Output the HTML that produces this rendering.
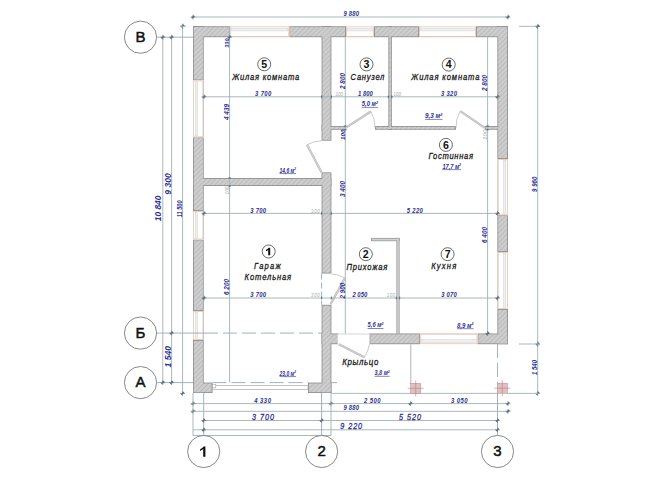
<!DOCTYPE html>
<html><head><meta charset="utf-8"><style>
html,body{margin:0;padding:0;background:#fff;}
svg{display:block;font-family:"Liberation Sans",sans-serif;}
</style></head><body>
<svg width="669" height="502" viewBox="0 0 669 502">
<defs>
<pattern id="hatch" patternUnits="userSpaceOnUse" width="3.4" height="3.4" patternTransform="rotate(45)">
<rect width="3.4" height="3.4" fill="#cdcdcd"/>
<line x1="0" y1="0" x2="0" y2="3.4" stroke="#a2a2a2" stroke-width="0.8"/>
</pattern>
</defs>
<rect width="669" height="502" fill="#fff"/>
<rect x="193.80" y="27.10" width="35.10" height="9.30" fill="none" stroke="#8c8c8c" stroke-width="1.6"/>
<rect x="290.10" y="27.10" width="55.10" height="9.30" fill="none" stroke="#8c8c8c" stroke-width="1.6"/>
<rect x="374.80" y="27.10" width="43.40" height="9.30" fill="none" stroke="#8c8c8c" stroke-width="1.6"/>
<rect x="476.80" y="27.10" width="30.40" height="9.30" fill="none" stroke="#8c8c8c" stroke-width="1.6"/>
<rect x="193.80" y="27.10" width="9.10" height="52.50" fill="none" stroke="#8c8c8c" stroke-width="1.6"/>
<rect x="193.80" y="138.10" width="9.10" height="72.10" fill="none" stroke="#8c8c8c" stroke-width="1.6"/>
<rect x="193.80" y="240.30" width="9.10" height="69.90" fill="none" stroke="#8c8c8c" stroke-width="1.6"/>
<rect x="193.80" y="340.80" width="9.10" height="51.40" fill="none" stroke="#8c8c8c" stroke-width="1.6"/>
<rect x="193.80" y="383.40" width="17.90" height="8.80" fill="none" stroke="#8c8c8c" stroke-width="1.6"/>
<rect x="308.80" y="383.40" width="21.80" height="8.80" fill="none" stroke="#8c8c8c" stroke-width="1.6"/>
<rect x="322.40" y="27.10" width="8.20" height="112.80" fill="none" stroke="#8c8c8c" stroke-width="1.6"/>
<rect x="322.40" y="173.20" width="8.20" height="99.50" fill="none" stroke="#8c8c8c" stroke-width="1.6"/>
<rect x="322.40" y="305.60" width="8.20" height="86.60" fill="none" stroke="#8c8c8c" stroke-width="1.6"/>
<rect x="193.80" y="178.80" width="136.80" height="6.40" fill="none" stroke="#8c8c8c" stroke-width="1.6"/>
<rect x="322.40" y="126.90" width="22.50" height="2.00" fill="none" stroke="#8c8c8c" stroke-width="1.6"/>
<rect x="375.80" y="126.90" width="79.40" height="2.00" fill="none" stroke="#8c8c8c" stroke-width="1.6"/>
<rect x="485.60" y="126.90" width="21.60" height="2.00" fill="none" stroke="#8c8c8c" stroke-width="1.6"/>
<rect x="389.20" y="27.10" width="1.80" height="101.80" fill="none" stroke="#8c8c8c" stroke-width="1.6"/>
<rect x="498.20" y="27.10" width="9.00" height="131.10" fill="none" stroke="#8c8c8c" stroke-width="1.6"/>
<rect x="498.20" y="216.00" width="9.00" height="35.20" fill="none" stroke="#8c8c8c" stroke-width="1.6"/>
<rect x="498.20" y="309.80" width="9.00" height="33.60" fill="none" stroke="#8c8c8c" stroke-width="1.6"/>
<rect x="322.40" y="334.30" width="15.70" height="9.10" fill="none" stroke="#8c8c8c" stroke-width="1.6"/>
<rect x="370.20" y="334.30" width="49.20" height="9.10" fill="none" stroke="#8c8c8c" stroke-width="1.6"/>
<rect x="478.30" y="334.30" width="28.90" height="9.10" fill="none" stroke="#8c8c8c" stroke-width="1.6"/>
<rect x="371.90" y="238.70" width="26.90" height="1.70" fill="none" stroke="#9a9a9a" stroke-width="1.6"/>
<rect x="397.20" y="238.70" width="1.60" height="95.00" fill="none" stroke="#9a9a9a" stroke-width="1.6"/>
<rect x="193.80" y="27.10" width="35.10" height="9.30" fill="url(#hatch)"/>
<rect x="290.10" y="27.10" width="55.10" height="9.30" fill="url(#hatch)"/>
<rect x="374.80" y="27.10" width="43.40" height="9.30" fill="url(#hatch)"/>
<rect x="476.80" y="27.10" width="30.40" height="9.30" fill="url(#hatch)"/>
<rect x="193.80" y="27.10" width="9.10" height="52.50" fill="url(#hatch)"/>
<rect x="193.80" y="138.10" width="9.10" height="72.10" fill="url(#hatch)"/>
<rect x="193.80" y="240.30" width="9.10" height="69.90" fill="url(#hatch)"/>
<rect x="193.80" y="340.80" width="9.10" height="51.40" fill="url(#hatch)"/>
<rect x="193.80" y="383.40" width="17.90" height="8.80" fill="url(#hatch)"/>
<rect x="308.80" y="383.40" width="21.80" height="8.80" fill="url(#hatch)"/>
<rect x="322.40" y="27.10" width="8.20" height="112.80" fill="url(#hatch)"/>
<rect x="322.40" y="173.20" width="8.20" height="99.50" fill="url(#hatch)"/>
<rect x="322.40" y="305.60" width="8.20" height="86.60" fill="url(#hatch)"/>
<rect x="193.80" y="178.80" width="136.80" height="6.40" fill="url(#hatch)"/>
<rect x="322.40" y="126.90" width="22.50" height="2.00" fill="url(#hatch)"/>
<rect x="375.80" y="126.90" width="79.40" height="2.00" fill="url(#hatch)"/>
<rect x="485.60" y="126.90" width="21.60" height="2.00" fill="url(#hatch)"/>
<rect x="389.20" y="27.10" width="1.80" height="101.80" fill="url(#hatch)"/>
<rect x="498.20" y="27.10" width="9.00" height="131.10" fill="url(#hatch)"/>
<rect x="498.20" y="216.00" width="9.00" height="35.20" fill="url(#hatch)"/>
<rect x="498.20" y="309.80" width="9.00" height="33.60" fill="url(#hatch)"/>
<rect x="322.40" y="334.30" width="15.70" height="9.10" fill="url(#hatch)"/>
<rect x="370.20" y="334.30" width="49.20" height="9.10" fill="url(#hatch)"/>
<rect x="478.30" y="334.30" width="28.90" height="9.10" fill="url(#hatch)"/>
<rect x="371.90" y="238.70" width="26.90" height="1.70" fill="#d2d2d2"/>
<rect x="397.20" y="238.70" width="1.60" height="95.00" fill="#d2d2d2"/>
<rect x="229.7" y="26.3" width="59.60" height="10.90" fill="#fff"/>
<rect x="230.20" y="26.80" width="58.60" height="9.90" fill="none" stroke="#efc4a8" stroke-width="0.8"/>
<rect x="231.20" y="28.30" width="56.60" height="2.6" fill="#edf1f4" stroke="#c8d1d8" stroke-width="0.5"/>
<line x1="230.2" y1="36.7" x2="288.8" y2="36.7" stroke="#c9b9b0" stroke-width="0.6" />
<rect x="346" y="26.3" width="28.00" height="10.90" fill="#fff"/>
<rect x="346.50" y="26.80" width="27.00" height="9.90" fill="none" stroke="#efc4a8" stroke-width="0.8"/>
<rect x="347.50" y="28.30" width="25.00" height="2.6" fill="#edf1f4" stroke="#c8d1d8" stroke-width="0.5"/>
<line x1="346.5" y1="36.7" x2="373.5" y2="36.7" stroke="#c9b9b0" stroke-width="0.6" />
<rect x="419" y="26.3" width="57.00" height="10.90" fill="#fff"/>
<rect x="419.50" y="26.80" width="56.00" height="9.90" fill="none" stroke="#efc4a8" stroke-width="0.8"/>
<rect x="420.50" y="28.30" width="54.00" height="2.6" fill="#edf1f4" stroke="#c8d1d8" stroke-width="0.5"/>
<line x1="419.5" y1="36.7" x2="475.5" y2="36.7" stroke="#c9b9b0" stroke-width="0.6" />
<rect x="193" y="80.4" width="10.70" height="56.90" fill="#fff"/>
<rect x="193.50" y="80.90" width="9.70" height="55.90" fill="none" stroke="#efc4a8" stroke-width="0.8"/>
<rect x="195.20" y="81.90" width="2.2" height="53.90" fill="#edf1f4" stroke="#c8d1d8" stroke-width="0.5"/>
<line x1="203.2" y1="80.9" x2="203.2" y2="136.8" stroke="#a9b0b0" stroke-width="0.6" />
<rect x="193" y="211" width="10.70" height="28.50" fill="#fff"/>
<rect x="193.50" y="211.50" width="9.70" height="27.50" fill="none" stroke="#efc4a8" stroke-width="0.8"/>
<rect x="195.20" y="212.50" width="2.2" height="25.50" fill="#edf1f4" stroke="#c8d1d8" stroke-width="0.5"/>
<line x1="203.2" y1="211.5" x2="203.2" y2="239.0" stroke="#a9b0b0" stroke-width="0.6" />
<rect x="193" y="311" width="10.70" height="29.00" fill="#fff"/>
<rect x="193.50" y="311.50" width="9.70" height="28.00" fill="none" stroke="#efc4a8" stroke-width="0.8"/>
<rect x="195.20" y="312.50" width="2.2" height="26.00" fill="#edf1f4" stroke="#c8d1d8" stroke-width="0.5"/>
<line x1="203.2" y1="311.5" x2="203.2" y2="339.5" stroke="#a9b0b0" stroke-width="0.6" />
<rect x="497.4" y="159" width="10.60" height="56.20" fill="#fff"/>
<rect x="497.90" y="159.50" width="9.60" height="55.20" fill="none" stroke="#efc4a8" stroke-width="0.8"/>
<rect x="503.60" y="160.50" width="2.2" height="53.20" fill="#edf1f4" stroke="#c8d1d8" stroke-width="0.5"/>
<line x1="497.9" y1="159.5" x2="497.9" y2="214.7" stroke="#a9b0b0" stroke-width="0.6" />
<rect x="497.4" y="252" width="10.60" height="57.00" fill="#fff"/>
<rect x="497.90" y="252.50" width="9.60" height="56.00" fill="none" stroke="#efc4a8" stroke-width="0.8"/>
<rect x="503.60" y="253.50" width="2.2" height="54.00" fill="#edf1f4" stroke="#c8d1d8" stroke-width="0.5"/>
<line x1="497.9" y1="252.5" x2="497.9" y2="308.5" stroke="#a9b0b0" stroke-width="0.6" />
<rect x="420.2" y="333.5" width="57.30" height="10.70" fill="#fff"/>
<rect x="420.70" y="334.00" width="56.30" height="9.70" fill="none" stroke="#efc4a8" stroke-width="0.8"/>
<rect x="421.70" y="339.60" width="54.30" height="2.6" fill="#edf1f4" stroke="#c8d1d8" stroke-width="0.5"/>
<line x1="420.7" y1="334.0" x2="477.0" y2="334.0" stroke="#c9b9b0" stroke-width="0.6" />
<rect x="337.8" y="333.5" width="31.6" height="10.7" fill="#fff"/>
<line x1="337.8" y1="334" x2="369.4" y2="334" stroke="#b8b8b8" stroke-width="0.6" />
<rect x="212.5" y="385.3" width="95.5" height="4.2" fill="#fff" stroke="#9a9a9a" stroke-width="0.6"/>
<rect x="212.6" y="384.6" width="3.2" height="3.2" fill="#fff" stroke="#9a9a9a" stroke-width="0.5"/>
<line x1="321.6" y1="172.4" x2="307" y2="144.8" stroke="#b9b9b9" stroke-width="2.2"/>
<line x1="321.6" y1="172.4" x2="307" y2="144.8" stroke="#dcdcdc" stroke-width="0.8"/>
<path d="M307,144.8 A31.2,31.2 0 0 1 321.6,140.7" fill="none" stroke="#bdbdbd" stroke-width="0.8"/>
<line x1="345.7" y1="127.9" x2="370.8" y2="111.5" stroke="#b9b9b9" stroke-width="2.2"/>
<line x1="345.7" y1="127.9" x2="370.8" y2="111.5" stroke="#dcdcdc" stroke-width="0.8"/>
<path d="M370.8,111.5 A30.0,30.0 0 0 1 375,127.9" fill="none" stroke="#bdbdbd" stroke-width="0.8"/>
<line x1="484.8" y1="127.9" x2="460.2" y2="111.2" stroke="#b9b9b9" stroke-width="2.2"/>
<line x1="484.8" y1="127.9" x2="460.2" y2="111.2" stroke="#dcdcdc" stroke-width="0.8"/>
<path d="M460.2,111.2 A29.7,29.7 0 0 0 456,127.9" fill="none" stroke="#bdbdbd" stroke-width="0.8"/>
<line x1="330.6" y1="304.2" x2="344.9" y2="278" stroke="#b9b9b9" stroke-width="2.2"/>
<line x1="330.6" y1="304.2" x2="344.9" y2="278" stroke="#dcdcdc" stroke-width="0.8"/>
<path d="M344.9,278 A29.8,29.8 0 0 0 331.4,273.9" fill="none" stroke="#bdbdbd" stroke-width="0.8"/>
<line x1="338.9" y1="344.2" x2="364.3" y2="357.2" stroke="#b9b9b9" stroke-width="2.2"/>
<line x1="338.9" y1="344.2" x2="364.3" y2="357.2" stroke="#dcdcdc" stroke-width="0.8"/>
<path d="M364.3,357.2 A28.5,28.5 0 0 0 369.4,344.2" fill="none" stroke="#bdbdbd" stroke-width="0.8"/>
<line x1="157" y1="37.2" x2="193" y2="37.2" stroke="#98a9b6" stroke-width="0.9" />
<line x1="157" y1="333.1" x2="204" y2="333.1" stroke="#98a9b6" stroke-width="0.9" />
<line x1="157" y1="382.6" x2="193" y2="382.6" stroke="#98a9b6" stroke-width="0.9" />
<line x1="204" y1="333.1" x2="322" y2="333.1" stroke="#98a9b6" stroke-width="0.9" stroke-dasharray="14 5"/>
<line x1="212.5" y1="382.6" x2="308" y2="382.6" stroke="#98a9b6" stroke-width="0.9" stroke-dasharray="14 5"/>
<line x1="331" y1="382.6" x2="337" y2="382.6" stroke="#98a9b6" stroke-width="0.9" />
<line x1="203.7" y1="393" x2="203.7" y2="435.5" stroke="#98a9b6" stroke-width="0.9" />
<line x1="321.6" y1="393" x2="321.6" y2="435.5" stroke="#98a9b6" stroke-width="0.9" />
<line x1="321.6" y1="273.5" x2="321.6" y2="304.8" stroke="#98a9b6" stroke-width="0.9" stroke-dasharray="6 3"/>
<line x1="497.5" y1="344" x2="497.5" y2="383" stroke="#98a9b6" stroke-width="0.9" stroke-dasharray="14 5"/>
<line x1="497.5" y1="393" x2="497.5" y2="435.5" stroke="#98a9b6" stroke-width="0.9" />
<line x1="193" y1="17" x2="509" y2="17" stroke="#a2b0b4" stroke-width="0.9" />
<line x1="190.6" y1="17" x2="195.4" y2="17" stroke="#6f808c" stroke-width="0.8" />
<line x1="193" y1="14.6" x2="193" y2="19.4" stroke="#6f808c" stroke-width="0.8" />
<line x1="191.7" y1="18.3" x2="194.3" y2="15.7" stroke="#5a6b78" stroke-width="1.3" />
<line x1="505.6" y1="17" x2="510.4" y2="17" stroke="#6f808c" stroke-width="0.8" />
<line x1="508" y1="14.6" x2="508" y2="19.4" stroke="#6f808c" stroke-width="0.8" />
<line x1="506.7" y1="18.3" x2="509.3" y2="15.7" stroke="#5a6b78" stroke-width="1.3" />
<text x="0" y="0" transform="translate(343.5 15.8) scale(0.88 1)" font-size="6.7" fill="#30308f" font-style="italic" font-weight="bold" textLength="17.6" lengthAdjust="spacing">9 880</text>
<line x1="162.8" y1="37.2" x2="162.8" y2="382.6" stroke="#a2b0b4" stroke-width="0.9" />
<line x1="160.4" y1="37.2" x2="165.20000000000002" y2="37.2" stroke="#6f808c" stroke-width="0.8" />
<line x1="162.8" y1="34.800000000000004" x2="162.8" y2="39.6" stroke="#6f808c" stroke-width="0.8" />
<line x1="161.5" y1="38.5" x2="164.10000000000002" y2="35.900000000000006" stroke="#5a6b78" stroke-width="1.3" />
<line x1="160.4" y1="382.6" x2="165.20000000000002" y2="382.6" stroke="#6f808c" stroke-width="0.8" />
<line x1="162.8" y1="380.20000000000005" x2="162.8" y2="385.0" stroke="#6f808c" stroke-width="0.8" />
<line x1="161.5" y1="383.90000000000003" x2="164.10000000000002" y2="381.3" stroke="#5a6b78" stroke-width="1.3" />
<line x1="171.6" y1="37.2" x2="171.6" y2="382.6" stroke="#a2b0b4" stroke-width="0.9" />
<line x1="169.2" y1="37.2" x2="174.0" y2="37.2" stroke="#6f808c" stroke-width="0.8" />
<line x1="171.6" y1="34.800000000000004" x2="171.6" y2="39.6" stroke="#6f808c" stroke-width="0.8" />
<line x1="170.29999999999998" y1="38.5" x2="172.9" y2="35.900000000000006" stroke="#5a6b78" stroke-width="1.3" />
<line x1="169.2" y1="333.1" x2="174.0" y2="333.1" stroke="#6f808c" stroke-width="0.8" />
<line x1="171.6" y1="330.70000000000005" x2="171.6" y2="335.5" stroke="#6f808c" stroke-width="0.8" />
<line x1="170.29999999999998" y1="334.40000000000003" x2="172.9" y2="331.8" stroke="#5a6b78" stroke-width="1.3" />
<line x1="169.2" y1="382.6" x2="174.0" y2="382.6" stroke="#6f808c" stroke-width="0.8" />
<line x1="171.6" y1="380.20000000000005" x2="171.6" y2="385.0" stroke="#6f808c" stroke-width="0.8" />
<line x1="170.29999999999998" y1="383.90000000000003" x2="172.9" y2="381.3" stroke="#5a6b78" stroke-width="1.3" />
<line x1="182.6" y1="26" x2="182.6" y2="393.4" stroke="#a2b0b4" stroke-width="0.9" />
<line x1="180.2" y1="26" x2="185.0" y2="26" stroke="#6f808c" stroke-width="0.8" />
<line x1="182.6" y1="23.6" x2="182.6" y2="28.4" stroke="#6f808c" stroke-width="0.8" />
<line x1="181.29999999999998" y1="27.3" x2="183.9" y2="24.7" stroke="#5a6b78" stroke-width="1.3" />
<line x1="180.2" y1="393.4" x2="185.0" y2="393.4" stroke="#6f808c" stroke-width="0.8" />
<line x1="182.6" y1="391.0" x2="182.6" y2="395.79999999999995" stroke="#6f808c" stroke-width="0.8" />
<line x1="181.29999999999998" y1="394.7" x2="183.9" y2="392.09999999999997" stroke="#5a6b78" stroke-width="1.3" />
<line x1="180" y1="26.3" x2="186" y2="26.3" stroke="#a2b0b4" stroke-width="0.9" />
<text x="0" y="0" transform="translate(161.2 221.3) rotate(-90)" font-size="8.6" fill="#30308f" font-style="italic" font-weight="bold" textLength="25.8" lengthAdjust="spacingAndGlyphs">10 840</text>
<text x="0" y="0" transform="translate(170.9 194.8) rotate(-90)" font-size="9.2" fill="#30308f" font-style="italic" font-weight="bold" textLength="21.6" lengthAdjust="spacingAndGlyphs">9 300</text>
<text x="0" y="0" transform="translate(181.5 217.2) rotate(-90)" font-size="6.6" fill="#30308f" font-style="italic" font-weight="bold" textLength="16.8" lengthAdjust="spacingAndGlyphs">11 500</text>
<text x="0" y="0" transform="translate(170.9 367.4) rotate(-90)" font-size="9.2" fill="#30308f" font-style="italic" font-weight="bold" textLength="21.4" lengthAdjust="spacingAndGlyphs">1 540</text>
<line x1="519" y1="26.3" x2="540" y2="26.3" stroke="#a2b0b4" stroke-width="0.9" />
<line x1="537.7" y1="26" x2="537.7" y2="393.4" stroke="#a2b0b4" stroke-width="0.9" />
<line x1="535.3000000000001" y1="26.3" x2="540.1" y2="26.3" stroke="#6f808c" stroke-width="0.8" />
<line x1="537.7" y1="23.900000000000002" x2="537.7" y2="28.7" stroke="#6f808c" stroke-width="0.8" />
<line x1="536.4000000000001" y1="27.6" x2="539.0" y2="25.0" stroke="#5a6b78" stroke-width="1.3" />
<line x1="535.3000000000001" y1="344" x2="540.1" y2="344" stroke="#6f808c" stroke-width="0.8" />
<line x1="537.7" y1="341.6" x2="537.7" y2="346.4" stroke="#6f808c" stroke-width="0.8" />
<line x1="536.4000000000001" y1="345.3" x2="539.0" y2="342.7" stroke="#5a6b78" stroke-width="1.3" />
<line x1="535.3000000000001" y1="393.4" x2="540.1" y2="393.4" stroke="#6f808c" stroke-width="0.8" />
<line x1="537.7" y1="391.0" x2="537.7" y2="395.79999999999995" stroke="#6f808c" stroke-width="0.8" />
<line x1="536.4000000000001" y1="394.7" x2="539.0" y2="392.09999999999997" stroke="#5a6b78" stroke-width="1.3" />
<line x1="519" y1="344" x2="540" y2="344" stroke="#a2b0b4" stroke-width="0.9" />
<line x1="507" y1="393.4" x2="540" y2="393.4" stroke="#a2b0b4" stroke-width="0.9" />
<text x="0" y="0" transform="translate(536.9 191.9) rotate(-90)" font-size="6.4" fill="#30308f" font-style="italic" font-weight="bold" textLength="15.2" lengthAdjust="spacingAndGlyphs">9 960</text>
<text x="0" y="0" transform="translate(536.9 375) rotate(-90)" font-size="6.4" fill="#30308f" font-style="italic" font-weight="bold" textLength="15.0" lengthAdjust="spacingAndGlyphs">1 540</text>
<line x1="204" y1="96.8" x2="497.5" y2="96.8" stroke="#a2b0b4" stroke-width="0.9" />
<line x1="201.6" y1="96.8" x2="206.4" y2="96.8" stroke="#6f808c" stroke-width="0.8" />
<line x1="204" y1="94.39999999999999" x2="204" y2="99.2" stroke="#6f808c" stroke-width="0.8" />
<line x1="202.7" y1="98.1" x2="205.3" y2="95.5" stroke="#5a6b78" stroke-width="1.3" />
<line x1="495.1" y1="96.8" x2="499.9" y2="96.8" stroke="#6f808c" stroke-width="0.8" />
<line x1="497.5" y1="94.39999999999999" x2="497.5" y2="99.2" stroke="#6f808c" stroke-width="0.8" />
<line x1="496.2" y1="98.1" x2="498.8" y2="95.5" stroke="#5a6b78" stroke-width="1.3" />
<text x="0" y="0" transform="translate(255 95.9) scale(0.88 1)" font-size="6.7" fill="#30308f" font-style="italic" font-weight="bold" textLength="18.5" lengthAdjust="spacing">3 700</text>
<text x="0" y="0" transform="translate(335.5 95.9) scale(0.88 1)" font-size="5" fill="#a8a8a8" font-style="italic" font-weight="normal" textLength="8.5" lengthAdjust="spacing">100</text>
<text x="0" y="0" transform="translate(358 95.9) scale(0.88 1)" font-size="6.7" fill="#30308f" font-style="italic" font-weight="bold" textLength="16.7" lengthAdjust="spacing">1 800</text>
<text x="0" y="0" transform="translate(393.5 95.9) scale(0.88 1)" font-size="5" fill="#a8a8a8" font-style="italic" font-weight="normal" textLength="8.5" lengthAdjust="spacing">100</text>
<text x="0" y="0" transform="translate(441 95.9) scale(0.88 1)" font-size="6.7" fill="#30308f" font-style="italic" font-weight="bold" textLength="18.2" lengthAdjust="spacing">3 320</text>
<line x1="204" y1="213.4" x2="497.5" y2="213.4" stroke="#a2b0b4" stroke-width="0.9" />
<line x1="201.6" y1="213.4" x2="206.4" y2="213.4" stroke="#6f808c" stroke-width="0.8" />
<line x1="204" y1="211.0" x2="204" y2="215.8" stroke="#6f808c" stroke-width="0.8" />
<line x1="202.7" y1="214.70000000000002" x2="205.3" y2="212.1" stroke="#5a6b78" stroke-width="1.3" />
<line x1="495.1" y1="213.4" x2="499.9" y2="213.4" stroke="#6f808c" stroke-width="0.8" />
<line x1="497.5" y1="211.0" x2="497.5" y2="215.8" stroke="#6f808c" stroke-width="0.8" />
<line x1="496.2" y1="214.70000000000002" x2="498.8" y2="212.1" stroke="#5a6b78" stroke-width="1.3" />
<text x="0" y="0" transform="translate(250.2 212.6) scale(0.88 1)" font-size="6.7" fill="#30308f" font-style="italic" font-weight="bold" textLength="18.0" lengthAdjust="spacing">3 700</text>
<text x="0" y="0" transform="translate(311 212.6) scale(0.88 1)" font-size="5" fill="#a8a8a8" font-style="italic" font-weight="normal" textLength="10.0" lengthAdjust="spacing">300</text>
<text x="0" y="0" transform="translate(406.7 212.6) scale(0.88 1)" font-size="6.7" fill="#30308f" font-style="italic" font-weight="bold" textLength="18.3" lengthAdjust="spacing">5 220</text>
<line x1="204" y1="298" x2="497.5" y2="298" stroke="#a2b0b4" stroke-width="0.9" />
<line x1="201.6" y1="298" x2="206.4" y2="298" stroke="#6f808c" stroke-width="0.8" />
<line x1="204" y1="295.6" x2="204" y2="300.4" stroke="#6f808c" stroke-width="0.8" />
<line x1="202.7" y1="299.3" x2="205.3" y2="296.7" stroke="#5a6b78" stroke-width="1.3" />
<line x1="495.1" y1="298" x2="499.9" y2="298" stroke="#6f808c" stroke-width="0.8" />
<line x1="497.5" y1="295.6" x2="497.5" y2="300.4" stroke="#6f808c" stroke-width="0.8" />
<line x1="496.2" y1="299.3" x2="498.8" y2="296.7" stroke="#5a6b78" stroke-width="1.3" />
<text x="0" y="0" transform="translate(250.2 297.2) scale(0.88 1)" font-size="6.7" fill="#30308f" font-style="italic" font-weight="bold" textLength="18.0" lengthAdjust="spacing">3 700</text>
<text x="0" y="0" transform="translate(311 297.2) scale(0.88 1)" font-size="5" fill="#a8a8a8" font-style="italic" font-weight="normal" textLength="10.0" lengthAdjust="spacing">300</text>
<text x="0" y="0" transform="translate(352.4 297.2) scale(0.88 1)" font-size="6.7" fill="#30308f" font-style="italic" font-weight="bold" textLength="16.9" lengthAdjust="spacing">2 050</text>
<text x="0" y="0" transform="translate(386.8 297.2) scale(0.88 1)" font-size="5" fill="#a8a8a8" font-style="italic" font-weight="normal" textLength="9.4" lengthAdjust="spacing">100</text>
<text x="0" y="0" transform="translate(441.2 297.2) scale(0.88 1)" font-size="6.7" fill="#30308f" font-style="italic" font-weight="bold" textLength="17.6" lengthAdjust="spacing">3 070</text>
<line x1="229.6" y1="26" x2="229.6" y2="382.6" stroke="#a2b0b4" stroke-width="0.9" />
<line x1="227.2" y1="37.2" x2="232.0" y2="37.2" stroke="#6f808c" stroke-width="0.8" />
<line x1="229.6" y1="34.800000000000004" x2="229.6" y2="39.6" stroke="#6f808c" stroke-width="0.8" />
<line x1="228.29999999999998" y1="38.5" x2="230.9" y2="35.900000000000006" stroke="#5a6b78" stroke-width="1.3" />
<text x="0" y="0" transform="translate(229.3 47.7) rotate(-90)" font-size="6" fill="#30308f" font-style="italic" font-weight="bold" textLength="9.2" lengthAdjust="spacingAndGlyphs">330</text>
<text x="0" y="0" transform="translate(229.3 120) rotate(-90)" font-size="6.4" fill="#30308f" font-style="italic" font-weight="bold" textLength="16.0" lengthAdjust="spacingAndGlyphs">4 439</text>
<text x="0" y="0" transform="translate(229.0 194.5) rotate(-90)" font-size="5" fill="#a8a8a8" font-style="italic" font-weight="normal" textLength="8.0" lengthAdjust="spacingAndGlyphs">100</text>
<text x="0" y="0" transform="translate(229.3 295) rotate(-90)" font-size="6.4" fill="#30308f" font-style="italic" font-weight="bold" textLength="16.0" lengthAdjust="spacingAndGlyphs">6 200</text>
<line x1="345.3" y1="37.2" x2="345.3" y2="333.5" stroke="#a2b0b4" stroke-width="0.9" />
<text x="0" y="0" transform="translate(344.9 89) rotate(-90)" font-size="6.4" fill="#30308f" font-style="italic" font-weight="bold" textLength="16.0" lengthAdjust="spacingAndGlyphs">2 800</text>
<text x="0" y="0" transform="translate(344.9 140) rotate(-90)" font-size="5.5" fill="#30308f" font-style="italic" font-weight="bold" textLength="10.5" lengthAdjust="spacingAndGlyphs">100</text>
<text x="0" y="0" transform="translate(344.9 197) rotate(-90)" font-size="6.4" fill="#30308f" font-style="italic" font-weight="bold" textLength="16.0" lengthAdjust="spacingAndGlyphs">3 400</text>
<text x="0" y="0" transform="translate(344.9 298.4) rotate(-90)" font-size="6.4" fill="#30308f" font-style="italic" font-weight="bold" textLength="15.5" lengthAdjust="spacingAndGlyphs">2 900</text>
<line x1="487.6" y1="37.2" x2="487.6" y2="333.5" stroke="#a2b0b4" stroke-width="0.9" />
<line x1="485.20000000000005" y1="333.5" x2="490.0" y2="333.5" stroke="#6f808c" stroke-width="0.8" />
<line x1="487.6" y1="331.1" x2="487.6" y2="335.9" stroke="#6f808c" stroke-width="0.8" />
<line x1="486.3" y1="334.8" x2="488.90000000000003" y2="332.2" stroke="#5a6b78" stroke-width="1.3" />
<text x="0" y="0" transform="translate(487.0 91) rotate(-90)" font-size="6.4" fill="#30308f" font-style="italic" font-weight="bold" textLength="16.0" lengthAdjust="spacingAndGlyphs">2 800</text>
<text x="0" y="0" transform="translate(487.0 140) rotate(-90)" font-size="5.5" fill="#a8a8a8" font-style="italic" font-weight="normal" textLength="10.5" lengthAdjust="spacingAndGlyphs">100</text>
<text x="0" y="0" transform="translate(487.0 243) rotate(-90)" font-size="6.4" fill="#30308f" font-style="italic" font-weight="bold" textLength="16.0" lengthAdjust="spacingAndGlyphs">6 400</text>
<line x1="193" y1="403.6" x2="509" y2="403.6" stroke="#a2b0b4" stroke-width="0.9" />
<line x1="190.6" y1="403.6" x2="195.4" y2="403.6" stroke="#6f808c" stroke-width="0.8" />
<line x1="193" y1="401.20000000000005" x2="193" y2="406.0" stroke="#6f808c" stroke-width="0.8" />
<line x1="191.7" y1="404.90000000000003" x2="194.3" y2="402.3" stroke="#5a6b78" stroke-width="1.3" />
<line x1="328.6" y1="403.6" x2="333.4" y2="403.6" stroke="#6f808c" stroke-width="0.8" />
<line x1="331" y1="401.20000000000005" x2="331" y2="406.0" stroke="#6f808c" stroke-width="0.8" />
<line x1="329.7" y1="404.90000000000003" x2="332.3" y2="402.3" stroke="#5a6b78" stroke-width="1.3" />
<line x1="408.1" y1="403.6" x2="412.9" y2="403.6" stroke="#6f808c" stroke-width="0.8" />
<line x1="410.5" y1="401.20000000000005" x2="410.5" y2="406.0" stroke="#6f808c" stroke-width="0.8" />
<line x1="409.2" y1="404.90000000000003" x2="411.8" y2="402.3" stroke="#5a6b78" stroke-width="1.3" />
<line x1="505.6" y1="403.6" x2="510.4" y2="403.6" stroke="#6f808c" stroke-width="0.8" />
<line x1="508" y1="401.20000000000005" x2="508" y2="406.0" stroke="#6f808c" stroke-width="0.8" />
<line x1="506.7" y1="404.90000000000003" x2="509.3" y2="402.3" stroke="#5a6b78" stroke-width="1.3" />
<text x="0" y="0" transform="translate(254.2 402.6) scale(0.88 1)" font-size="6.7" fill="#30308f" font-style="italic" font-weight="bold" textLength="19.0" lengthAdjust="spacing">4 330</text>
<text x="0" y="0" transform="translate(364 402.6) scale(0.88 1)" font-size="6.7" fill="#30308f" font-style="italic" font-weight="bold" textLength="18.8" lengthAdjust="spacing">2 500</text>
<text x="0" y="0" transform="translate(451 402.6) scale(0.88 1)" font-size="6.7" fill="#30308f" font-style="italic" font-weight="bold" textLength="18.8" lengthAdjust="spacing">3 050</text>
<line x1="193" y1="411.3" x2="509" y2="411.3" stroke="#a2b0b4" stroke-width="0.9" />
<line x1="190.6" y1="411.3" x2="195.4" y2="411.3" stroke="#6f808c" stroke-width="0.8" />
<line x1="193" y1="408.90000000000003" x2="193" y2="413.7" stroke="#6f808c" stroke-width="0.8" />
<line x1="191.7" y1="412.6" x2="194.3" y2="410.0" stroke="#5a6b78" stroke-width="1.3" />
<line x1="505.6" y1="411.3" x2="510.4" y2="411.3" stroke="#6f808c" stroke-width="0.8" />
<line x1="508" y1="408.90000000000003" x2="508" y2="413.7" stroke="#6f808c" stroke-width="0.8" />
<line x1="506.7" y1="412.6" x2="509.3" y2="410.0" stroke="#5a6b78" stroke-width="1.3" />
<text x="0" y="0" transform="translate(343.5 410.3) scale(0.88 1)" font-size="6.7" fill="#30308f" font-style="italic" font-weight="bold" textLength="17.6" lengthAdjust="spacing">9 880</text>
<line x1="203.7" y1="420.5" x2="497.5" y2="420.5" stroke="#a2b0b4" stroke-width="0.9" />
<line x1="201.29999999999998" y1="420.5" x2="206.1" y2="420.5" stroke="#6f808c" stroke-width="0.8" />
<line x1="203.7" y1="418.1" x2="203.7" y2="422.9" stroke="#6f808c" stroke-width="0.8" />
<line x1="202.39999999999998" y1="421.8" x2="205.0" y2="419.2" stroke="#5a6b78" stroke-width="1.3" />
<line x1="319.20000000000005" y1="420.5" x2="324.0" y2="420.5" stroke="#6f808c" stroke-width="0.8" />
<line x1="321.6" y1="418.1" x2="321.6" y2="422.9" stroke="#6f808c" stroke-width="0.8" />
<line x1="320.3" y1="421.8" x2="322.90000000000003" y2="419.2" stroke="#5a6b78" stroke-width="1.3" />
<line x1="495.1" y1="420.5" x2="499.9" y2="420.5" stroke="#6f808c" stroke-width="0.8" />
<line x1="497.5" y1="418.1" x2="497.5" y2="422.9" stroke="#6f808c" stroke-width="0.8" />
<line x1="496.2" y1="421.8" x2="498.8" y2="419.2" stroke="#5a6b78" stroke-width="1.3" />
<text x="0" y="0" transform="translate(252 419.6) scale(0.8 1)" font-size="9" fill="#30308f" font-style="italic" font-weight="normal" textLength="27.5" lengthAdjust="spacing" stroke="#30308f" stroke-width="0.3">3 700</text>
<text x="0" y="0" transform="translate(399 419.6) scale(0.8 1)" font-size="9" fill="#30308f" font-style="italic" font-weight="normal" textLength="27.5" lengthAdjust="spacing" stroke="#30308f" stroke-width="0.3">5 520</text>
<line x1="193" y1="429.8" x2="497.5" y2="429.8" stroke="#a2b0b4" stroke-width="0.9" />
<line x1="201.29999999999998" y1="429.8" x2="206.1" y2="429.8" stroke="#6f808c" stroke-width="0.8" />
<line x1="203.7" y1="427.40000000000003" x2="203.7" y2="432.2" stroke="#6f808c" stroke-width="0.8" />
<line x1="202.39999999999998" y1="431.1" x2="205.0" y2="428.5" stroke="#5a6b78" stroke-width="1.3" />
<line x1="495.1" y1="429.8" x2="499.9" y2="429.8" stroke="#6f808c" stroke-width="0.8" />
<line x1="497.5" y1="427.40000000000003" x2="497.5" y2="432.2" stroke="#6f808c" stroke-width="0.8" />
<line x1="496.2" y1="431.1" x2="498.8" y2="428.5" stroke="#5a6b78" stroke-width="1.3" />
<text x="0" y="0" transform="translate(340.2 428.9) scale(0.8 1)" font-size="9" fill="#30308f" font-style="italic" font-weight="normal" textLength="27.4" lengthAdjust="spacing" stroke="#30308f" stroke-width="0.3">9 220</text>
<line x1="193" y1="435.5" x2="331" y2="435.5" stroke="#a2b0b4" stroke-width="0.9" />
<line x1="193" y1="393" x2="193" y2="435.5" stroke="#a2b0b4" stroke-width="0.9" />
<line x1="331" y1="393" x2="331" y2="435.5" stroke="#a2b0b4" stroke-width="0.9" />
<line x1="321.6" y1="95.2" x2="321.6" y2="98.39999999999999" stroke="#6f808c" stroke-width="0.8" />
<circle cx="321.6" cy="96.8" r="0.75" fill="#5d6f7c"/>
<line x1="331.4" y1="95.2" x2="331.4" y2="98.39999999999999" stroke="#6f808c" stroke-width="0.8" />
<circle cx="331.4" cy="96.8" r="0.75" fill="#5d6f7c"/>
<line x1="388.4" y1="95.2" x2="388.4" y2="98.39999999999999" stroke="#6f808c" stroke-width="0.8" />
<circle cx="388.4" cy="96.8" r="0.75" fill="#5d6f7c"/>
<line x1="391.8" y1="95.2" x2="391.8" y2="98.39999999999999" stroke="#6f808c" stroke-width="0.8" />
<circle cx="391.8" cy="96.8" r="0.75" fill="#5d6f7c"/>
<line x1="321.6" y1="211.8" x2="321.6" y2="215.0" stroke="#6f808c" stroke-width="0.8" />
<circle cx="321.6" cy="213.4" r="0.75" fill="#5d6f7c"/>
<line x1="331.4" y1="211.8" x2="331.4" y2="215.0" stroke="#6f808c" stroke-width="0.8" />
<circle cx="331.4" cy="213.4" r="0.75" fill="#5d6f7c"/>
<line x1="321.6" y1="296.4" x2="321.6" y2="299.6" stroke="#6f808c" stroke-width="0.8" />
<circle cx="321.6" cy="298" r="0.75" fill="#5d6f7c"/>
<line x1="331.4" y1="296.4" x2="331.4" y2="299.6" stroke="#6f808c" stroke-width="0.8" />
<circle cx="331.4" cy="298" r="0.75" fill="#5d6f7c"/>
<line x1="396.4" y1="296.4" x2="396.4" y2="299.6" stroke="#6f808c" stroke-width="0.8" />
<circle cx="396.4" cy="298" r="0.75" fill="#5d6f7c"/>
<line x1="399.6" y1="296.4" x2="399.6" y2="299.6" stroke="#6f808c" stroke-width="0.8" />
<circle cx="399.6" cy="298" r="0.75" fill="#5d6f7c"/>
<line x1="228.0" y1="178" x2="231.2" y2="178" stroke="#6f808c" stroke-width="0.8" />
<circle cx="229.6" cy="178" r="0.75" fill="#5d6f7c"/>
<line x1="228.0" y1="186" x2="231.2" y2="186" stroke="#6f808c" stroke-width="0.8" />
<circle cx="229.6" cy="186" r="0.75" fill="#5d6f7c"/>
<line x1="343.7" y1="126.1" x2="346.90000000000003" y2="126.1" stroke="#6f808c" stroke-width="0.8" />
<circle cx="345.3" cy="126.1" r="0.75" fill="#5d6f7c"/>
<line x1="486.0" y1="126.1" x2="489.20000000000005" y2="126.1" stroke="#6f808c" stroke-width="0.8" />
<circle cx="487.6" cy="126.1" r="0.75" fill="#5d6f7c"/>
<line x1="343.7" y1="129.7" x2="346.90000000000003" y2="129.7" stroke="#6f808c" stroke-width="0.8" />
<circle cx="345.3" cy="129.7" r="0.75" fill="#5d6f7c"/>
<line x1="486.0" y1="129.7" x2="489.20000000000005" y2="129.7" stroke="#6f808c" stroke-width="0.8" />
<circle cx="487.6" cy="129.7" r="0.75" fill="#5d6f7c"/>
<line x1="410.8" y1="344.2" x2="410.8" y2="384" stroke="#909090" stroke-width="0.7" />
<line x1="331.4" y1="393.4" x2="497.5" y2="393.4" stroke="#9aa" stroke-width="0.8" />
<rect x="410.7" y="383.3" width="10" height="10" fill="#d8c4c4" stroke="#a88" stroke-width="0.5"/>
<line x1="407.7" y1="388.3" x2="423.7" y2="388.3" stroke="#e07070" stroke-width="0.6" />
<line x1="415.7" y1="380.3" x2="415.7" y2="396.3" stroke="#e07070" stroke-width="0.6" />
<rect x="497.3" y="383.2" width="10" height="10" fill="#d8c4c4" stroke="#a88" stroke-width="0.5"/>
<line x1="494.3" y1="388.2" x2="510.3" y2="388.2" stroke="#e07070" stroke-width="0.6" />
<line x1="502.3" y1="380.2" x2="502.3" y2="396.2" stroke="#e07070" stroke-width="0.6" />
<circle cx="264.2" cy="64.3" r="6.5" fill="#fff" stroke="#444" stroke-width="0.8"/>
<text x="264.2" y="68.1" font-size="10.6" fill="#111" text-anchor="middle" font-weight="bold">5</text>
<text x="0" y="0" transform="translate(232.2 80.1) scale(0.8 1)" font-size="9.5" fill="#151515" font-style="italic" textLength="83.8" lengthAdjust="spacing" stroke="#151515" stroke-width="0.3">Жилая комната</text>
<circle cx="366.5" cy="64.4" r="6.5" fill="#fff" stroke="#444" stroke-width="0.8"/>
<text x="366.5" y="68.2" font-size="10.6" fill="#111" text-anchor="middle" font-weight="bold">3</text>
<text x="0" y="0" transform="translate(350.6 79.6) scale(0.8 1)" font-size="9.5" fill="#151515" font-style="italic" textLength="42.2" lengthAdjust="spacing" stroke="#151515" stroke-width="0.3">Санузел</text>
<circle cx="448.7" cy="64.6" r="6.5" fill="#fff" stroke="#444" stroke-width="0.8"/>
<text x="448.7" y="68.4" font-size="10.6" fill="#111" text-anchor="middle" font-weight="bold">4</text>
<text x="0" y="0" transform="translate(411.3 80.1) scale(0.8 1)" font-size="9.5" fill="#151515" font-style="italic" textLength="85.1" lengthAdjust="spacing" stroke="#151515" stroke-width="0.3">Жилая комната</text>
<circle cx="445.9" cy="144.9" r="6.5" fill="#fff" stroke="#444" stroke-width="0.8"/>
<text x="445.9" y="148.7" font-size="10.6" fill="#111" text-anchor="middle" font-weight="bold">6</text>
<text x="0" y="0" transform="translate(428.6 159.3) scale(0.8 1)" font-size="9.5" fill="#151515" font-style="italic" textLength="55.6" lengthAdjust="spacing" stroke="#151515" stroke-width="0.3">Гостинная</text>
<circle cx="268.7" cy="251.5" r="6.5" fill="#fff" stroke="#444" stroke-width="0.8"/>
<path d="M268.2,255.3 L268.2,250.0 Q267.2,250.8 266.0,251.2 L266.0,249.8 Q267.7,249.1 268.7,247.8 L270.2,247.8 L270.2,255.3 Z" fill="#111"/>
<text x="0" y="0" transform="translate(254.1 268.8) scale(0.8 1)" font-size="9.5" fill="#151515" font-style="italic" textLength="33.2" lengthAdjust="spacing" stroke="#151515" stroke-width="0.3">Гараж</text>
<text x="0" y="0" transform="translate(244.6 279.8) scale(0.8 1)" font-size="9.5" fill="#151515" font-style="italic" textLength="58.2" lengthAdjust="spacing" stroke="#151515" stroke-width="0.3">Котельная</text>
<circle cx="365.8" cy="254.2" r="6.5" fill="#fff" stroke="#444" stroke-width="0.8"/>
<text x="365.8" y="258.0" font-size="10.6" fill="#111" text-anchor="middle" font-weight="bold">2</text>
<text x="0" y="0" transform="translate(346.5 270.3) scale(0.8 1)" font-size="9.5" fill="#151515" font-style="italic" textLength="51.0" lengthAdjust="spacing" stroke="#151515" stroke-width="0.3">Прихожая</text>
<circle cx="447.6" cy="254.2" r="6.5" fill="#fff" stroke="#444" stroke-width="0.8"/>
<text x="447.6" y="258.0" font-size="10.6" fill="#111" text-anchor="middle" font-weight="bold">7</text>
<text x="0" y="0" transform="translate(431.2 268.7) scale(0.8 1)" font-size="9.5" fill="#151515" font-style="italic" textLength="31.4" lengthAdjust="spacing" stroke="#151515" stroke-width="0.3">Кухня</text>
<text x="0" y="0" transform="translate(342.2 365.0) scale(0.8 1)" font-size="9.8" fill="#151515" font-style="italic" textLength="45.1" lengthAdjust="spacing" stroke="#151515" stroke-width="0.3">Крыльцо</text>
<text x="279.5" y="172.5" font-size="6.5" fill="#30308f" font-style="italic" font-weight="bold" textLength="16.5" lengthAdjust="spacingAndGlyphs">14,6 м<tspan font-size="4" dy="-2.6">2</tspan></text>
<line x1="279.5" y1="173.6" x2="296" y2="173.6" stroke="#30308f" stroke-width="0.6" />
<text x="361.8" y="106.3" font-size="6.5" fill="#30308f" font-style="italic" font-weight="bold" textLength="16.2" lengthAdjust="spacingAndGlyphs">5,0 м<tspan font-size="4" dy="-2.6">2</tspan></text>
<line x1="361.8" y1="107.39999999999999" x2="378" y2="107.39999999999999" stroke="#30308f" stroke-width="0.6" />
<text x="425" y="118.3" font-size="6.5" fill="#30308f" font-style="italic" font-weight="bold" textLength="17.5" lengthAdjust="spacingAndGlyphs">9,3 м<tspan font-size="4" dy="-2.6">2</tspan></text>
<line x1="425" y1="119.39999999999999" x2="442.5" y2="119.39999999999999" stroke="#30308f" stroke-width="0.6" />
<text x="442.4" y="168.5" font-size="6.5" fill="#30308f" font-style="italic" font-weight="bold" textLength="18.6" lengthAdjust="spacingAndGlyphs">17,7 м<tspan font-size="4" dy="-2.6">2</tspan></text>
<line x1="442.4" y1="169.6" x2="461" y2="169.6" stroke="#30308f" stroke-width="0.6" />
<text x="367.6" y="327.4" font-size="6.5" fill="#30308f" font-style="italic" font-weight="bold" textLength="15.8" lengthAdjust="spacingAndGlyphs">5,6 м<tspan font-size="4" dy="-2.6">2</tspan></text>
<line x1="367.6" y1="328.5" x2="383.4" y2="328.5" stroke="#30308f" stroke-width="0.6" />
<text x="457" y="327.6" font-size="6.5" fill="#30308f" font-style="italic" font-weight="bold" textLength="16.6" lengthAdjust="spacingAndGlyphs">8,9 м<tspan font-size="4" dy="-2.6">2</tspan></text>
<line x1="457" y1="328.70000000000005" x2="473.6" y2="328.70000000000005" stroke="#30308f" stroke-width="0.6" />
<text x="279.5" y="375.5" font-size="6.5" fill="#30308f" font-style="italic" font-weight="bold" textLength="16.5" lengthAdjust="spacingAndGlyphs">23,0 м<tspan font-size="4" dy="-2.6">2</tspan></text>
<line x1="279.5" y1="376.6" x2="296" y2="376.6" stroke="#30308f" stroke-width="0.6" />
<text x="374.5" y="375.2" font-size="6.5" fill="#30308f" font-style="italic" font-weight="bold" textLength="15.2" lengthAdjust="spacingAndGlyphs">3,8 м<tspan font-size="4" dy="-2.6">2</tspan></text>
<line x1="374.5" y1="376.3" x2="389.7" y2="376.3" stroke="#30308f" stroke-width="0.6" />
<circle cx="140.5" cy="37.2" r="16.1" fill="#fff" stroke="#6a6a6a" stroke-width="0.8"/>
<text x="140.5" y="41.6" font-size="15" fill="#111" text-anchor="middle" stroke="#111" stroke-width="0.5">В</text>
<circle cx="140.5" cy="333.1" r="16.1" fill="#fff" stroke="#6a6a6a" stroke-width="0.8"/>
<text x="140.5" y="337.5" font-size="15" fill="#111" text-anchor="middle" stroke="#111" stroke-width="0.5">Б</text>
<circle cx="140.5" cy="382.6" r="16.1" fill="#fff" stroke="#6a6a6a" stroke-width="0.8"/>
<text x="140.5" y="387.0" font-size="15" fill="#111" text-anchor="middle" stroke="#111" stroke-width="0.5">А</text>
<circle cx="203.7" cy="451.5" r="16.1" fill="#fff" stroke="#6a6a6a" stroke-width="0.8"/>
<path d="M203.2,456.8 L203.2,449.1 Q201.9,450.3 200.1,450.9 L200.1,449.3 Q202.5,448.3 203.7,446.5 L205.4,446.5 L205.4,456.8 Z" fill="#111"/>
<circle cx="321.6" cy="451.5" r="16.1" fill="#fff" stroke="#6a6a6a" stroke-width="0.8"/>
<text x="321.6" y="455.9" font-size="15" fill="#111" text-anchor="middle" stroke="#111" stroke-width="0.5">2</text>
<circle cx="497.5" cy="451.5" r="16.1" fill="#fff" stroke="#6a6a6a" stroke-width="0.8"/>
<text x="497.5" y="455.9" font-size="15" fill="#111" text-anchor="middle" stroke="#111" stroke-width="0.5">3</text>
</svg>
</body></html>
